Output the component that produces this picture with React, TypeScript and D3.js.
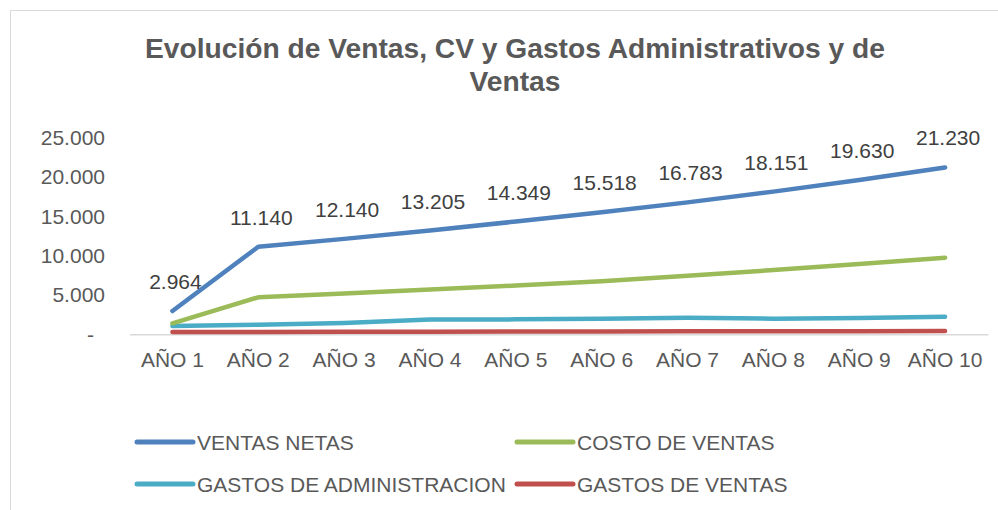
import React, { useRef, useEffect } from "react";
import * as d3 from "d3";

// Chart data
const years = ["AÑO 1", "AÑO 2", "AÑO 3", "AÑO 4", "AÑO 5", "AÑO 6", "AÑO 7", "AÑO 8", "AÑO 9", "AÑO 10"];
const ventasNetas = [2964, 11140, 12140, 13205, 14349, 15518, 16783, 18151, 19630, 21230];
const costoVentas = [1400, 4710, 5200, 5690, 6200, 6750, 7450, 8180, 8940, 9750];
const gastosAdmin = [1060, 1220, 1450, 1870, 1900, 1990, 2110, 1990, 2080, 2240];
const gastosVentas = [280, 300, 310, 330, 350, 360, 380, 390, 400, 420];
const yTicks = [0, 5000, 10000, 15000, 20000, 25000];
const titleLines = ["Evolución de Ventas, CV y Gastos Administrativos y de", "Ventas"];

const seriesNames = ["VENTAS NETAS", "COSTO DE VENTAS", "GASTOS DE ADMINISTRACION", "GASTOS DE VENTAS"];
const seriesColors = ["#4f81bd", "#9bbb59", "#4bacc6", "#c0504d"];

const FONT = "'Liberation Sans', Arial, sans-serif";
const TEXT = "#595959";

const App = () => {
	const ref = useRef<SVGSVGElement | null>(null);

	useEffect(() => {
		const svg = d3.select(ref.current);
		svg.selectAll("*").remove();

		const width = 998;
		const height = 510;

		// chart frame (runs off the right and bottom edges)
		svg.append("rect")
			.attr("x", 10.5)
			.attr("y", 10.5)
			.attr("width", width + 20)
			.attr("height", height + 20)
			.attr("fill", "#fff")
			.attr("stroke", "#d9d9d9");

		// title
		svg.append("g")
			.selectAll("text")
			.data(titleLines)
			.enter()
			.append("text")
			.attr("x", 515)
			.attr("y", (d, i) => 58 + i * 33)
			.attr("text-anchor", "middle")
			.attr("font-family", FONT)
			.attr("font-weight", "bold")
			.attr("font-size", 28.2)
			.attr("fill", TEXT)
			.text((d) => d);

		// scales
		const x = d3.scaleBand().domain(years).range([129.5, 988]).padding(0);
		const cx = (d: string) => (x(d) as number) + x.bandwidth() / 2;
		const y = d3.scaleLinear().domain([0, 25000]).range([334.3, 137.8]);

		// y axis (no line, no ticks)
		const yAxis = svg.append("g")
			.attr("transform", "translate(105,0)")
			.call(
				d3.axisLeft(y)
					.tickValues(yTicks)
					.tickSize(0)
					.tickPadding(0)
					.tickFormat((d) => (+d === 0 ? "-" : d3.format(",")(+d).replace(/,/g, ".")))
			);
		yAxis.select(".domain").remove();
		yAxis.selectAll("text")
			.attr("font-family", FONT)
			.attr("font-size", 21)
			.attr("fill", TEXT)
			.attr("dx", (d) => (+d === 0 ? -11 : 0));

		// x axis baseline and labels
		const xAxis = svg.append("g")
			.attr("transform", `translate(0,${y(0)})`)
			.call(d3.axisBottom(x).tickSize(0).tickPadding(0));
		xAxis.select(".domain").attr("stroke", "#d9d9d9").attr("stroke-width", 1.5);
		xAxis.selectAll("text")
			.attr("font-family", FONT)
			.attr("font-size", 21)
			.attr("fill", TEXT)
			.attr("dy", 0)
			.attr("y", 33);

		// lines, drawn bottom series first
		const allSeries = [ventasNetas, costoVentas, gastosAdmin, gastosVentas];
		const line = d3.line<number>()
			.x((d, i) => cx(years[i]))
			.y((d) => y(d));

		for (let s = allSeries.length - 1; s >= 0; s--) {
			svg.append("path")
				.datum(allSeries[s])
				.attr("d", line)
				.attr("fill", "none")
				.attr("stroke", seriesColors[s])
				.attr("stroke-width", 4.5)
				.attr("stroke-linecap", "round")
				.attr("stroke-linejoin", "round");
		}

		// data labels for VENTAS NETAS
		svg.append("g")
			.selectAll("text")
			.data(ventasNetas)
			.enter()
			.append("text")
			.attr("x", (d, i) => cx(years[i]) + 3)
			.attr("y", (d) => y(d) - 22)
			.attr("text-anchor", "middle")
			.attr("font-family", FONT)
			.attr("font-size", 21)
			.attr("fill", "#404040")
			.text((d) => d3.format(",")(d).replace(/,/g, "."));

		// legend, two columns
		const legend = svg.append("g")
			.selectAll("g")
			.data(seriesNames)
			.enter()
			.append("g")
			.attr("transform", (d, i) => `translate(${i % 2 === 0 ? 137 : 517},${442 + Math.floor(i / 2) * 42})`);
		legend.append("line")
			.attr("x1", 0)
			.attr("x2", 56)
			.attr("stroke", (d, i) => seriesColors[i])
			.attr("stroke-width", 5)
			.attr("stroke-linecap", "round");
		legend.append("text")
			.attr("x", 60)
			.attr("y", 7.5)
			.attr("font-family", FONT)
			.attr("font-size", 21)
			.attr("fill", TEXT)
			.text((d) => d);
	}, []);

	return (
		<svg
			ref={ref}
			width={998}
			height={510}
			style={{ position: "absolute", left: 0, top: 0, display: "block", background: "#fff" }}
		/>
	);
};

export default App;
